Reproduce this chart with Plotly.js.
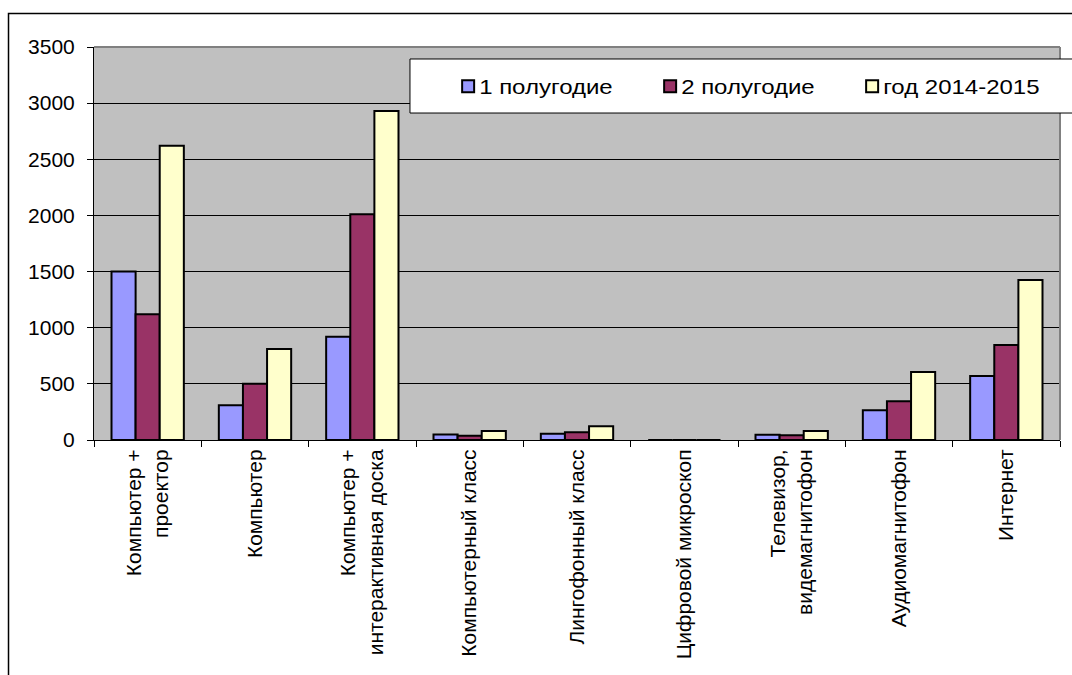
<!DOCTYPE html>
<html>
<head>
<meta charset="utf-8">
<script src="https://cdn.plot.ly/plotly-3.0.1.min.js"></script>
<style>
html, body { margin: 0; padding: 0; background: #fff; }
#chart { width: 1072px; height: 675px; }
.legendtext { transform-box: fill-box; transform-origin: left center; transform: translateX(-9px) scaleX(1.2); }
</style>
</head>
<body>
<div id="chart"></div>
<script>
const categories = [
  "Компьютер +<br>проектор",
  "Компьютер",
  "Компьютер +<br>интерактивная доска",
  "Компьютерный класс",
  "Лингофонный класс",
  "Цифровой микроскоп",
  "Телевизор,<br>видемагнитофон",
  "Аудиомагнитофон",
  "Интернет"
];
const seriesNames = ["1 полугодие", "2 полугодие", "год 2014-2015"];
const half1 = [1500, 310, 920, 50, 56, 0, 47, 265, 570];
const half2 = [1120, 500, 2010, 38, 68, 0, 42, 345, 845];
const year = [2620, 810, 2930, 80, 122, 0, 80, 605, 1425];
const colors = ["#9999FF", "#993366", "#FFFFCC"];

const FONT = "Liberation Sans, Arial, sans-serif";
const traces = [half1, half2, year].map((vals, i) => ({
  type: "bar",
  name: seriesNames[i],
  x: categories,
  y: vals,
  marker: { color: colors[i], line: { color: "#000", width: 2 } },
  hoverinfo: "x+y"
}));

const layout = {
  width: 1072, height: 675,
  margin: { l: 94, r: 12, t: 47, b: 235 },
  paper_bgcolor: "#ffffff",
  plot_bgcolor: "#C0C0C0",
  barmode: "group",
  bargap: 0.326,
  bargroupgap: 0,
  font: { family: FONT, size: 21, color: "#000" },
  showlegend: true,
  legend: {
    orientation: "h",
    x: 0.3666, xanchor: "left",
    y: 0.950, yanchor: "top",
    bgcolor: "rgba(0,0,0,0)",
    borderwidth: 0,
    font: { family: FONT, size: 20, color: "#000" },
    entrywidth: 157,
    entrywidthmode: "pixels"
  },
  xaxis: {
    type: "category",
    tickangle: -90,
    tickson: "boundaries",
    ticks: "outside",
    ticklen: 6,
    tickcolor: "#000",
    showline: true,
    linecolor: "#000",
    linewidth: 1,
    showgrid: false,
    tickfont: { family: FONT, size: 21, color: "#000" },
    automargin: false
  },
  yaxis: {
    range: [0, 3500],
    dtick: 500,
    tick0: 0,
    ticks: "outside",
    ticklen: 6,
    tickcolor: "#000",
    showline: true,
    linecolor: "#000",
    linewidth: 1,
    showgrid: true,
    gridcolor: "#000",
    gridwidth: 1,
    zeroline: true,
    zerolinecolor: "#000",
    zerolinewidth: 1,
    tickfont: { family: FONT, size: 21, color: "#000" },
    ticklabelstandoff: 8,
    automargin: false
  },
  shapes: [
    { type: "rect", xref: "paper", yref: "paper", x0: -0.0885, x1: 1.03, y0: -0.62, y1: 1.0855,
      line: { color: "#000", width: 1.5 }, fillcolor: "rgba(0,0,0,0)", layer: "below" },
    { type: "line", xref: "paper", yref: "paper", x0: 0, x1: 1, y0: 1, y1: 1,
      line: { color: "#808080", width: 2 }, layer: "above" },
    { type: "line", xref: "paper", yref: "paper", x0: 1, x1: 1, y0: 0, y1: 1,
      line: { color: "#808080", width: 2 }, layer: "above" },
    { type: "rect", xref: "paper", yref: "paper", x0: 0.3271, x1: 1.03, y0: 0.832, y1: 0.9695,
      line: { color: "#000", width: 1 }, fillcolor: "#ffffff", layer: "above" }
  ]
};

Plotly.newPlot("chart", traces, layout, { displayModeBar: false, staticPlot: true });
</script>
</body>
</html>
